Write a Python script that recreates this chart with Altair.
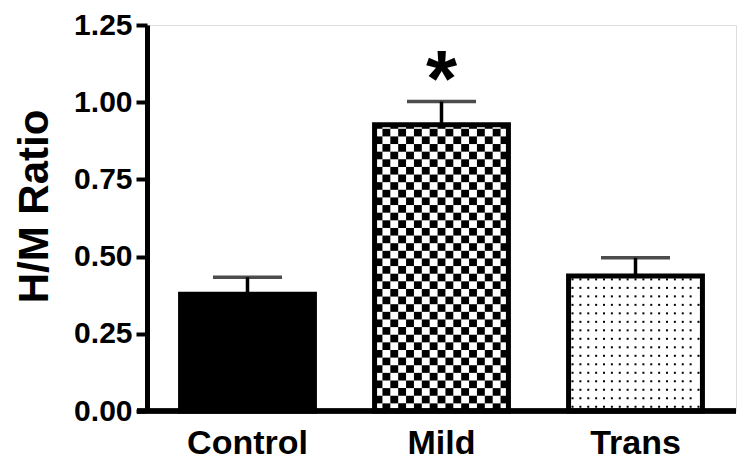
import altair as alt
import pandas as pd

# ---- data ----
categories = ["Control", "Mild", "Trans"]
means = [0.378, 0.927, 0.437]
sems = [0.055, 0.075, 0.059]
fills = ["#000000", "#ffffff", "#ffffff"]
stars = ["", "*", ""]
y_ticks = [0.0, 0.25, 0.5, 0.75, 1.0, 1.25]

bars = pd.DataFrame({"group": categories, "mean": means, "sem": sems,
                     "fill": fills, "star": stars})
bars["upper"] = bars["mean"] + bars["sem"]

# ---- fill textures (checkerboard for Mild, dots for Trans) ----
n_cols = 17
checker_cell = 0.0247
dot_step = 0.0275

checker = []
top = means[1]
r = 0
while r * checker_cell < top:
    y0 = r * checker_cell
    y1 = min((r + 1) * checker_cell, top)
    for c in range(n_cols):
        if (r + c) % 2 == 1:
            checker.append({"group": "Mild", "col": c, "y0": y0, "y1": y1})
    r += 1
checker = pd.DataFrame(checker)

dots_a, dots_b = [], []
top = means[2]
r = 0
while (r + 0.5) * dot_step < top:
    yc = (r + 0.5) * dot_step
    for c in range(n_cols):
        if r % 2 == 0:
            dots_a.append({"group": "Trans", "col": c, "yc": yc})
        elif c < n_cols - 1:
            dots_b.append({"group": "Trans", "col": c, "yc": yc})
    r += 1
dots_a = pd.DataFrame(dots_a)
dots_b = pd.DataFrame(dots_b)

W, H = 589, 386
FONT = "Liberation Sans"

x_scale = alt.Scale(domain=categories, paddingInner=0.31, paddingOuter=0.173)
x_axis = alt.Axis(labelFont=FONT, labelFontSize=34, labelFontWeight="bold",
                  labelColor="black", labelPadding=15, ticks=False,
                  domain=False, labelAngle=0)
y_scale = alt.Scale(domain=[0, 1.25], nice=False, zero=True)
y_axis = alt.Axis(values=y_ticks, format=".2f", labelFont=FONT,
                  labelFontSize=30, labelFontWeight="bold", labelColor="black",
                  labelPadding=4, tickSize=11, tickWidth=4, tickColor="black",
                  domainWidth=5, domainColor="black", grid=False,
                  titleFont=FONT, titleFontSize=42, titleFontWeight="bold",
                  titleColor="black", titlePadding=17, titleY=181)

def X():
    return alt.X("group:N", sort=categories, scale=x_scale, axis=x_axis, title=None)

def Y(field):
    return alt.Y(field, scale=y_scale, axis=y_axis, title="H/M Ratio")

off_scale = alt.Scale(paddingInner=0, paddingOuter=0)

base = alt.Chart(bars).mark_bar(strokeWidth=0).encode(
    x=X(), y=Y("mean:Q"), fill=alt.Fill("fill:N", scale=None))

check_layer = alt.Chart(checker).mark_rect(color="black").encode(
    x=X(), xOffset=alt.XOffset("col:O", scale=off_scale),
    y=Y("y0:Q"), y2="y1:Q")

dot_a_layer = alt.Chart(dots_a).mark_square(size=4, color="black", opacity=1).encode(
    x=X(), xOffset=alt.XOffset("col:O", scale=off_scale), y=Y("yc:Q"))
dot_b_layer = alt.Chart(dots_b).mark_square(size=4, color="black", opacity=1, dx=3.8).encode(
    x=X(), xOffset=alt.XOffset("col:O", scale=off_scale), y=Y("yc:Q"))

outline = alt.Chart(bars).mark_bar(fillOpacity=0, stroke="black", strokeWidth=5).encode(
    x=X(), y=Y("mean:Q"))

err = alt.Chart(bars).mark_rule(color="black", strokeWidth=3.5).encode(
    x=X(), y=Y("mean:Q"), y2="upper:Q")

cap = alt.Chart(bars).mark_tick(color="black", thickness=3.5, size=69).encode(
    x=X(), y=Y("upper:Q"))

star = alt.Chart(bars).mark_text(font=FONT, fontSize=80, fontWeight="bold",
                                 baseline="alphabetic", dy=4, color="black").encode(
    x=X(), y=Y("upper:Q"), text="star:N")

x_line = alt.Chart(bars).mark_rule(color="black", strokeWidth=5).encode(
    x=alt.value(-10), x2=alt.value(W), y=alt.value(H))

chart = alt.layer(base, check_layer, dot_a_layer, dot_b_layer, outline, err, cap,
                  star, x_line).properties(
    width=W, height=H,
    autosize=alt.AutoSizeParams(type="none"),
    padding={"left": 139, "top": 17, "right": 8, "bottom": 50},
).configure_view(stroke=None).configure(background="white")

chart.save("out.html", embed_options={"renderer": "svg", "actions": False})
